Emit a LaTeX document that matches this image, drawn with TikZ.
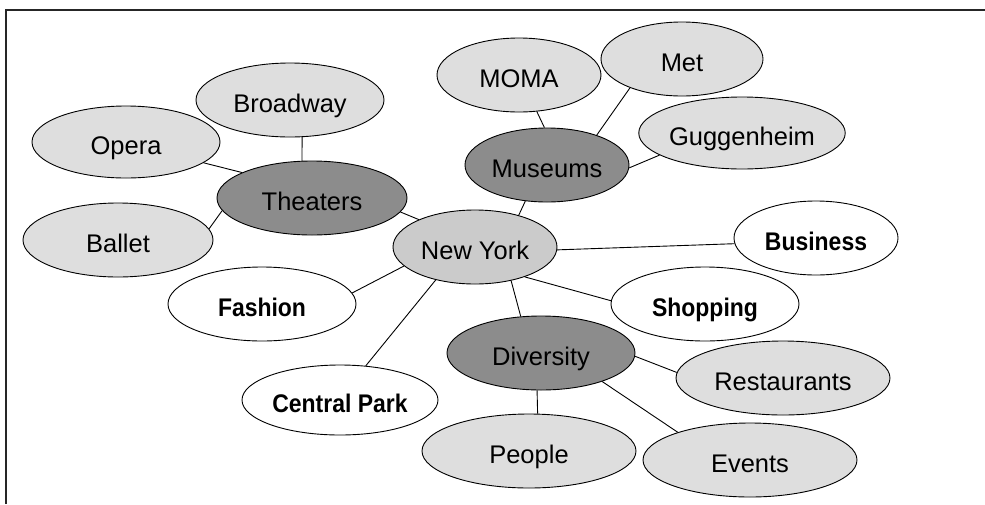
\documentclass[tikz,border=0pt]{standalone}
\usepackage{fontspec}
\setmainfont{Liberation Sans}
\newfontfamily\topicfont{Liberation Sans}[FakeStretch=0.9, UprightFont=*, BoldFont=* Bold]
\usetikzlibrary{shapes.geometric}
\definecolor{leaffill}{HTML}{DEDEDE}
\definecolor{hubfill}{HTML}{8C8C8C}
\definecolor{rootfill}{HTML}{CBCBCB}
\tikzset{
  bubble/.style={ellipse, draw=black, line width=0.9pt, inner sep=0pt,
    text height=25pt, text depth=0pt,
    font=\fontsize{25.5}{30}\selectfont},
  leaf/.style={bubble, fill=leaffill},
  hub/.style={bubble, fill=hubfill},
  root/.style={bubble, fill=rootfill},
  topic/.style={bubble, fill=white, font=\fontsize{25.5}{30}\selectfont\topicfont\bfseries},
  link/.style={draw=black, line width=0.9pt},
  frame/.style={draw=black!85, line width=2pt}
}
\newcommand{\bub}[5]{\node[#1, minimum width=#4pt, minimum height=#5pt] (#2) at (#3) }
\begin{document}
\begin{tikzpicture}[x=1pt, y=-1pt]
\useasboundingbox (0,0) rectangle (985,504);
% page frame (top and left edges)
\coordinate (fbl) at (6,504);
\coordinate (ftl) at (6,10);
\coordinate (ftr) at (985,10);
\draw[frame] (fbl) -- (ftl) -- (ftr);

% centre
\bub{root}{ny}{475,247}{164}{74}{New York};
% theaters branch
\bub{hub}{theaters}{312,198}{190}{74}{Theaters};
\bub{leaf}{broadway}{290,100}{188}{74}{Broadway};
\bub{leaf}{opera}{126,142}{188}{72}{Opera};
\bub{leaf}{ballet}{118,240}{190}{74}{Ballet};
% museums branch
\bub{hub}{museums}{547,165}{164}{74}{Museums};
\bub{leaf}{moma}{519,75}{164}{74}{MOMA};
\bub{leaf}{met}{682,59}{162}{74}{Met};
\bub{leaf}{guggenheim}{742,133}{184}{72}{Guggenheim};
% diversity branch
\bub{hub}{diversity}{541,353}{188}{74}{Diversity};
\bub{leaf}{people}{529,451}{214}{74}{People};
\bub{leaf}{restaurants}{783,378}{214}{74}{Restaurants};
\bub{leaf}{events}{750,460}{214}{74}{Events};
% single topics
\bub{topic}{business}{816,238}{164}{74}{Business};
\bub{topic}{shopping}{705,304}{188}{74}{Shopping};
\bub{topic}{fashion}{262,304}{188}{74}{Fashion};
\bub{topic}{centralpark}{340,400}{196}{70}{Central Park};

% connectors
\draw[link] (opera.-15.1) -- (theaters.160.2);
\draw[link] (broadway.-72) -- (theaters.105.1);
\draw[link] (ballet.7.9) -- (theaters.188.7);
\draw[link] (theaters.-9) -- (ny.154.2);
\draw[link] (ny.36.7) -- (museums.-121.9);
\draw[link] (moma.-64.1) -- (museums.94.6);
\draw[link] (met.-151.8) -- (museums.31.3);
\draw[link] (museums.-2.1) -- (guggenheim.-165.6);
\draw[link] (ny.-2.1) -- (business.-176.5);
\draw[link] (ny.-31.1) -- (shopping.178.2);
\draw[link] (ny.-43.5) -- (diversity.119.1);
\draw[link] (ny.-165.4) -- (fashion.7.8);
\draw[link] (ny.-140.7) -- (centralpark.53.7);
\draw[link] (diversity.-96.2) -- (people.77.5);
\draw[link] (diversity.-2.4) -- (restaurants.177.8);
\draw[link] (diversity.-25.1) -- (events.159);
\end{tikzpicture}
\end{document}
